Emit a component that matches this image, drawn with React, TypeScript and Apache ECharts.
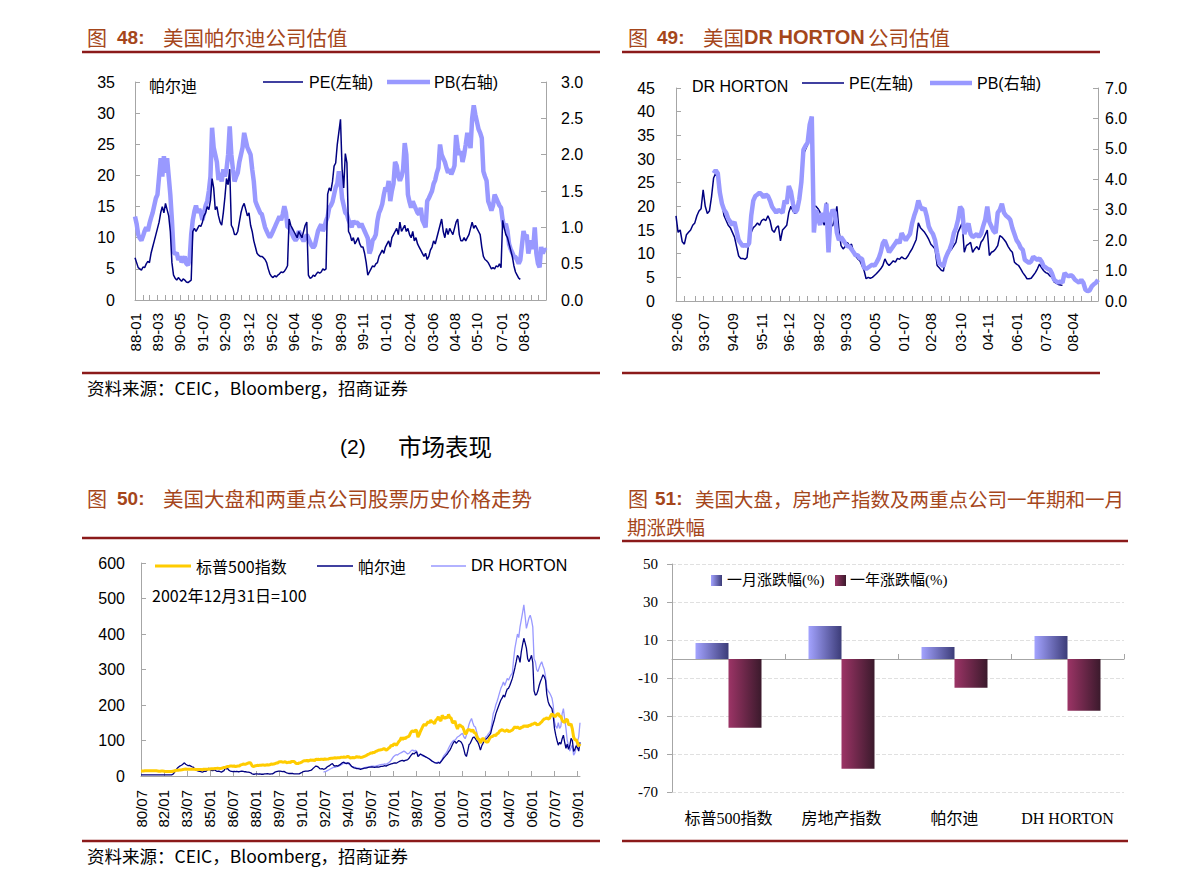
import React, { useEffect, useRef } from "react";
import * as echarts from "echarts";

// ---------- helpers for category names ----------
function months(y0: number, m0: number, n: number, sep: string): string[] {
  const out: string[] = [];
  for (let i = 0; i < n; i++) {
    const t = m0 - 1 + i;
    const y = (y0 + Math.floor(t / 12)) % 100;
    const m = (t % 12) + 1;
    out.push(String(y).padStart(2, "0") + sep + String(m).padStart(2, "0"));
  }
  return out;
}

// ---------- chart 48 : Pulte valuation ----------
const cat48 = months(1988, 1, 257, "-");
const labels48 = ["88-01", "89-03", "90-05", "91-07", "92-09", "93-12", "95-02", "96-04", "97-06", "98-09", "99-11", "01-01", "02-04", "03-06", "04-08", "05-10", "07-01", "08-03"];
const pultePE: (number | null)[] = [
  6.8, 6.0, 5.2, 5.0, 4.8, 5.3, 5.2, 5.8, 6.2, 6.0,
  7.5, 8.5, 9.5, 10.5, 11.5, 12.5, 14.0, 15.0, 14.0, 15.5,
  14.5, 13.5, 11.0, 6.0, 4.0, 3.5, 3.2, 3.6, 3.3, 3.0,
  3.4, 3.2, 2.9, 2.8, 3.0, 3.2, 11.0, 11.5, 11.0, 11.5,
  12.0, 11.8, 12.5, 13.5, 14.0, 15.0, 14.5, 16.0, 19.5, 18.0,
  14.5, 15.0, 13.5, 12.5, 12.0, 14.0, 16.5, 19.5, 18.5, 21.0,
  12.0, 11.5, 10.5, 10.5, 11.0, 12.5, 14.0, 15.0, 15.5, 14.5,
  13.5, 14.0, 12.0, 11.0, 9.5, 8.5, 7.5, 7.2, 7.0, 7.0,
  6.8, 6.5, 6.0, 5.0, 4.2, 3.8, 3.6, 3.9, 3.7, 4.0,
  4.2, 4.5, 4.4, 4.6, 5.0, 5.5, 13.0, 12.0, 11.5, 11.0,
  10.5, 10.0, 11.0, 10.5, 10.0, 11.0, 12.0, 12.5, 4.0, 3.5,
  3.6, 4.0, 3.8, 4.2, 4.5, 4.3, 4.5, 5.0, 4.8, 5.0,
  17.0, 18.0, 17.5, 19.0, 21.5, 22.0, 25.0, 27.0, 29.0, 21.0,
  18.0, 23.5, 22.0, 11.0, 10.5, 9.5, 10.0, 9.0, 9.5, 10.0,
  9.0, 8.5, 8.5, 7.5, 6.0, 4.0, 4.5, 5.0, 5.5, 5.3,
  5.8, 6.0, 7.0, 7.5, 8.0, 7.5, 8.5, 9.0, 9.5, 8.5,
  10.0, 10.5, 11.0, 11.5, 10.5, 12.5, 11.0, 11.5, 12.0, 11.0,
  11.5, 10.5, 10.0, 11.0, 9.5, 10.0, 9.0, 8.5, 8.0, 7.5,
  7.0, 7.5, 6.5, 7.0, 8.0, 8.5, 9.5, 9.0, 10.0, 11.0,
  12.0, 13.0, 11.0, 10.0, 11.5, 10.5, 11.5, 11.0, 10.5, 11.5,
  12.5, 13.0, 10.5, 9.5, 9.5, 10.0, 9.5, 10.0, 10.5, 11.5,
  12.5, 11.5, 12.0, 11.5, 11.0, 10.5, 8.5, 7.0, 6.5, 6.3,
  6.0, 5.5, 5.0, 5.2, 5.0, 5.5, 5.3, 5.8, 5.2, 12.8,
  11.5, 10.5, 10.0, 9.0, 8.0, 7.0, 5.5, 4.5, 4.0, 3.5,
  3.3, null, null, null, null, null, null, null, null, null,
  null, null, null, null, null, null, null,
];
const pultePB: number[] = [
  1.15, 1.05, 0.9, 0.85, 0.82, 0.88, 0.95, 1.0, 0.95, 1.05,
  1.13, 1.2, 1.3, 1.4, 1.45, 1.7, 1.95, 1.7, 1.98, 1.75,
  1.95, 1.7, 1.45, 1.1, 0.67, 0.63, 0.65, 0.55, 0.6, 0.52,
  0.55, 0.6, 0.5, 0.48, 0.55, 0.9, 1.1, 1.22, 1.3, 1.2,
  1.25, 1.2, 1.1, 1.2, 1.3, 1.36, 1.5, 1.7, 2.37, 2.1,
  2.0, 1.9, 1.65, 1.75, 1.63, 1.8, 1.7, 1.8, 2.0, 2.39,
  2.0, 1.8, 1.63, 1.7, 1.75, 1.9, 2.0, 2.1, 2.3, 2.2,
  2.1, 2.05, 2.0, 1.8, 1.63, 1.36, 1.3, 1.25, 1.2, 1.18,
  1.09, 1.0, 0.95, 0.9, 0.86, 0.9, 0.95, 1.0, 1.05, 1.1,
  1.15, 1.1, 1.18, 1.29, 1.2, 1.0, 1.0, 0.95, 0.9, 0.85,
  0.82, 0.85, 0.95, 0.9, 0.85, 0.81, 0.85, 0.9, 0.85, 0.8,
  0.75, 0.72, 0.75, 0.85, 0.95, 1.0, 1.04, 0.95, 1.0, 1.09,
  1.15, 1.27, 1.3, 1.35, 1.45, 1.55, 1.6, 1.77, 1.65, 1.4,
  1.3, 1.2, 1.18, 1.1, 1.05, 1.0, 1.09, 1.05, 1.07, 1.05,
  1.0, 1.05, 1.0, 0.95, 0.9, 0.85, 0.64, 0.7, 0.82, 0.85,
  0.9, 1.09, 1.2, 1.25, 1.32, 1.45, 1.55, 1.5, 1.64, 1.36,
  1.5, 1.6, 1.9, 1.85, 1.7, 1.64, 1.7, 1.8, 2.16, 2.0,
  1.45, 1.35, 1.27, 1.36, 1.3, 1.25, 1.2, 1.18, 1.27, 1.1,
  1.05, 1.0, 1.36, 1.4, 1.45, 1.5, 1.6, 1.65, 1.75, 1.82,
  2.14, 2.0, 1.95, 1.9, 1.82, 1.75, 1.8, 1.73, 1.78, 1.85,
  2.27, 2.1, 2.0, 2.05, 1.9, 2.0, 2.14, 2.3, 2.2, 2.09,
  2.5, 2.68, 2.55, 2.45, 2.35, 2.3, 2.23, 1.77, 1.7, 1.64,
  1.36, 1.3, 1.23, 1.3, 1.45, 1.4, 1.35, 1.3, 1.27, 1.1,
  1.0, 1.05, 0.95, 0.77, 0.7, 0.65, 0.6, 0.59, 0.55, 0.5,
  0.55, 0.75, 0.95, 0.86, 0.9, 0.64, 0.75, 0.82, 0.7, 1.0,
  0.64, 0.5, 0.45, 0.73, 0.64, 0.7, 0.68,
];

// ---------- chart 49 : DR Horton valuation ----------
const cat49 = months(1992, 6, 203, "-");
const labels49 = ["92-06", "93-07", "94-09", "95-11", "96-12", "98-02", "99-03", "00-05", "01-07", "02-08", "03-10", "04-11", "06-01", "07-03", "08-04"];
const hortonPE: (number | null)[] = [
  18.0, 14.5, 15.0, 12.5, 12.0, 14.0, 14.5, 15.0, 16.0, 16.5,
  18.0, 19.0, 19.5, 23.5, 20.0, 18.5, 19.0, 22.0, 26.0, 27.0,
  26.0, 22.5, 20.5, 18.0, 17.0, 16.0, 15.5, 14.5, 13.5, 11.5,
  9.5, 9.0, 9.0, 8.8, 9.2, 13.0, 14.5, 15.5, 15.9, 16.5,
  16.0, 17.0, 17.3, 17.0, 18.0, 17.0, 15.0, 14.5, 15.5, 15.9,
  12.7, 15.0, 15.5, 16.0, 18.7, 20.0, 19.0, 18.5, 19.0, 21.0,
  24.0, 31.0, 32.0, 33.0, 36.0, 38.0, 20.0, 20.0, 19.5, 18.7,
  17.0, 16.0, 20.8, 16.5, 16.0, 15.9, 17.5, 20.0, 15.0, 11.7,
  11.0, 11.5, 12.4, 11.7, 12.0, 10.3, 9.5, 8.9, 8.5, 7.5,
  6.5, 4.7, 5.0, 4.8, 5.0, 5.4, 5.8, 6.3, 6.8, 7.5,
  8.9, 8.0, 7.5, 8.0, 8.5, 8.2, 9.0, 8.8, 9.3, 9.0,
  8.9, 9.5, 10.3, 11.0, 12.0, 13.0, 16.5, 15.5, 15.0, 14.5,
  13.8, 13.0, 12.0, 11.5, 11.0, 7.5, 7.0, 6.5, 6.3, 9.0,
  9.6, 10.5, 11.0, 11.7, 12.4, 14.5, 15.5, 16.5, 10.3, 11.7,
  12.0, 12.4, 10.3, 11.0, 11.5, 10.8, 12.4, 13.0, 14.0, 15.0,
  9.6, 10.3, 10.5, 11.0, 11.7, 13.8, 13.5, 13.0, 12.4, 11.5,
  10.8, 10.3, 8.2, 7.8, 7.5, 6.8, 6.0, 5.4, 4.7, 4.7,
  4.8, 5.4, 6.0, 6.8, 7.8, 7.0, 6.4, 6.0, 5.8, 5.3,
  5.0, 4.0, 3.8, 3.5, 3.4, 3.3, null, null, null, null,
  null, null, null, null, null, null, null, null, null, null,
  null, null, null,
];
const hortonPB: (number | null)[] = [
  null, null, null, null, null, null, null, null, null, null,
  null, null, null, null, null, null, null, null, 4.2, 4.3,
  4.2, 3.56, 3.2, 3.0, 2.9, 2.7, 2.6, 2.5, 2.6, 2.3,
  2.0, 1.9, 1.8, 1.85, 1.8, 1.9, 2.8, 3.3, 3.45, 3.5,
  3.56, 3.5, 3.4, 3.5, 3.45, 3.3, 3.1, 3.0, 2.9, 3.0,
  2.95, 2.9, 3.3, 3.2, 3.78, 3.6, 3.2, 2.9, 3.0, 3.34,
  3.9, 4.97, 5.1, 5.2, 5.8, 6.06, 2.25, 3.0, 2.7, 2.5,
  2.9, 2.6, 3.2, 1.6, 2.8, 3.0, 2.9, 2.25, 2.0, 2.1,
  2.0, 1.9, 1.8, 1.8, 1.7, 1.6, 1.5, 1.5, 1.4, 1.4,
  1.1, 1.05, 1.1, 1.15, 1.2, 1.15, 1.27, 1.4, 1.6, 1.9,
  2.0, 1.8, 1.6, 1.7, 1.8, 1.9, 2.0, 1.9, 2.23, 2.1,
  2.0, 2.1, 2.2, 2.55, 2.8, 3.0, 3.3, 3.1, 3.0, 3.05,
  2.8, 2.45, 2.3, 2.2, 2.0, 1.6, 1.25, 1.2, 1.14, 1.4,
  1.57, 1.7, 1.9, 2.23, 2.4, 2.67, 3.1, 3.0, 2.2, 2.4,
  2.55, 2.2, 2.1, 2.15, 2.2, 2.1, 2.2, 2.45, 2.67, 3.1,
  2.6, 2.45, 2.3, 2.23, 2.9, 3.0, 3.2, 2.9, 2.8, 2.75,
  2.67, 2.4, 2.2, 2.0, 1.9, 1.75, 1.68, 1.35, 1.3, 1.25,
  1.3, 1.46, 1.4, 1.35, 1.4, 1.3, 1.14, 1.1, 1.05, 1.03,
  0.9, 0.7, 0.65, 0.6, 0.65, 0.6, 0.92, 0.85, 0.81, 0.85,
  0.8, 0.7, 0.65, 0.6, 0.7, 0.6, 0.37, 0.32, 0.35, 0.48,
  0.55, 0.6, 0.7,
];

// ---------- chart 50 : price history, 2002-12-31 = 100 ----------
const cat50 = months(1980, 7, 345, "/");
const labels50 = ["80/07", "82/01", "83/07", "85/01", "86/07", "88/01", "89/07", "91/01", "92/07", "94/01", "95/07", "97/01", "98/07", "00/01", "01/07", "03/01", "04/07", "06/01", "07/07", "09/01"];
const sp500: number[] = [
  14, 14, 14, 14.5, 15, 15,
  15, 15, 15, 15, 15, 15, 14.5, 14, 13.5, 13.5, 14, 14,
  13.5, 13, 13, 13, 13, 12.5, 12.5, 13.5, 14, 15.5, 16, 16,
  17, 17, 17.5, 18.5, 19, 19.5, 19, 19, 19, 19, 19, 19,
  19, 18, 18.5, 18.5, 18, 18, 17.5, 19, 19, 19, 19, 19,
  20, 20.5, 20.5, 20.5, 21, 21.5, 22, 21.5, 21, 21.5, 23, 24,
  24, 25.5, 27, 27, 28, 28, 27, 28.5, 26.5, 27.5, 28, 28,
  31, 32, 33.5, 33, 33, 35, 36.5, 37.5, 36.5, 29, 26.5, 28,
  29, 30, 29.5, 30, 30, 31, 31, 30, 31, 31.5, 31, 31.5,
  34, 33, 33.5, 35, 36.5, 36.5, 39.5, 40, 40, 39, 39.5, 40.5,
  37.5, 38, 39, 38, 41, 41, 41, 37, 35, 35, 37, 37.5,
  39, 42, 43, 43, 44, 42, 44, 45, 44, 45, 43, 47.5,
  46.5, 47, 46, 47, 47, 46.5, 48, 47, 47.5, 48, 49.5, 50,
  50, 50.5, 51.5, 50.5, 51.5, 51.5, 51.5, 53, 52.5, 53.5, 53, 53.5,
  55, 53.5, 51, 51.5, 52, 51, 52.5, 54.5, 53, 54, 52, 52.5,
  54, 55.5, 57, 58.5, 61, 62.5, 64.5, 64.5, 66.5, 66.5, 69.5, 70.5,
  72.5, 73, 74, 74.5, 76.5, 76.5, 73, 74.5, 78.5, 80.5, 86.5, 84.5,
  89.5, 90.5, 86.5, 91.5, 97, 101, 108.5, 102.5, 108, 104.5, 109, 110.5,
  111.5, 119.5, 125.5, 127, 124.5, 129.5, 128, 109.5, 116.5, 126, 133.5, 141,
  146.5, 142, 147.5, 153, 149.5, 157.5, 152.5, 151.5, 147.5, 157, 160, 167,
  158.5, 155.5, 170.5, 165.5, 162, 166, 163.5, 173.5, 164.5, 163.5, 150.5, 150.5,
  155.5, 141.5, 132.5, 142.5, 143.5, 140, 138.5, 130, 118.5, 120.5, 130, 130.5,
  129, 126, 130.5, 122.5, 121.5, 113, 104, 104.5, 93, 101.5, 107, 100,
  97.5, 95.5, 96.5, 104.5, 110, 111, 113, 115.5, 113.5, 119.5, 120.5, 126.5,
  128.5, 130.5, 128, 126, 127.5, 130, 125.5, 126, 127.5, 129.5, 134.5, 138.5,
  135.5, 138, 135.5, 133, 137, 137, 141.5, 140, 141.5, 138.5, 143.5, 142,
  145.5, 146, 148, 149.5, 144.5, 145, 145.5, 149.5, 152.5, 157.5, 160.5, 161.5,
  164, 160.5, 162, 169.5, 175, 172, 167, 168.5, 174.5, 176, 168.5, 167.5,
  157.5, 152.5, 151.5, 158.5, 159.5, 145.5, 143.5, 146.5, 132.5, 110, 101.5, 102.5,
  94, 84, 91,
];
const pultePrice: number[] = [
  3, 3, 3, 3, 3, 3,
  3, 3, 3, 3, 3, 3, 3, 3, 3, 3, 3, 3,
  3, 3, 3, 3, 3, 3, 3, 5, 9, 15, 20, 24,
  27, 29, 31, 34, 37, 33, 31, 29, 30, 28, 26, 25,
  20, 17, 15, 14, 13, 12, 11, 12, 14, 13, 17, 22,
  18, 16, 15, 16, 17, 14, 13, 14, 12, 11, 13, 15,
  22, 20, 21, 16, 14, 13, 12, 13, 12, 13, 12, 12,
  13, 14, 13, 12, 12, 11, 11, 10, 9, 6, 5, 5,
  6, 6, 5, 6, 5, 5, 5, 6, 6, 7, 6, 5,
  6, 6, 8, 11, 12, 13, 14, 14, 13, 12, 13, 11,
  9, 8, 7, 7, 7, 7, 6, 6, 6, 6, 6, 8,
  10, 12, 13, 14, 14, 14, 15, 16, 18, 22, 25, 28,
  27, 25, 21, 20, 21, 19, 20, 22, 26, 28, 30, 33,
  35, 30, 28, 29, 28, 30, 32, 35, 38, 39, 36, 35,
  37, 36, 32, 27, 25, 23, 22, 21, 21, 20, 19, 20,
  21, 22, 22, 23, 24, 25, 25, 26, 25, 24, 25, 26,
  25, 26, 27, 27, 28, 29, 28, 30, 31, 33, 34, 35,
  36, 37, 36, 38, 40, 42, 43, 44, 42, 44, 45, 46,
  50, 55, 60, 64, 62, 66, 68, 55, 58, 62, 60, 58,
  56, 54, 52, 50, 48, 45, 42, 40, 38, 37, 36, 38,
  36, 40, 45, 50, 54, 58, 62, 68, 73, 80, 88, 95,
  98, 92, 96, 100, 98, 95, 88, 75, 60, 55, 70, 88,
  92, 100, 108, 110, 105, 100, 95, 85, 73, 85, 92, 100,
  103, 106, 110, 115, 120, 135, 148, 160, 175, 185, 195, 205,
  214, 220, 228, 222, 235, 245, 247, 255, 265, 275, 290, 305,
  322, 340, 335, 320, 350, 370, 388, 375, 360, 330, 322, 330,
  340, 320, 240, 228, 230, 240, 255, 266, 275, 285, 280, 270,
  230, 210, 200, 195, 190, 170, 134, 115, 100, 87, 95, 90,
  105, 115, 95, 78, 90, 75, 85, 106, 100, 69, 75, 85,
  80, 70, 95,
];
const hortonPrice: (number | null)[] = [
  ...new Array(143).fill(null),
  11, 12, 13, 15, 17, 19, 21,
  23, 25, 24, 26, 27, 28, 30, 32, 34, 36, 35, 37,
  35, 33, 30, 27, 26, 25, 24, 23, 22, 22, 21, 21,
  22, 23, 24, 25, 25, 26, 27, 28, 28, 27, 28, 29,
  30, 31, 32, 33, 33, 34, 33, 35, 37, 40, 45, 50,
  55, 58, 60, 59, 62, 64, 66, 68, 70, 68, 65, 62,
  64, 68, 72, 73, 70, 72, 70, 59, 60, 62, 58, 56,
  55, 54, 52, 50, 48, 45, 42, 40, 38, 37, 36, 40,
  36, 42, 48, 55, 60, 64, 70, 78, 85, 92, 97, 100,
  101, 105, 110, 112, 115, 118, 120, 110, 105, 115, 130, 145,
  155, 162, 150, 140, 138, 125, 110, 95, 92, 98, 105, 100,
  110, 112, 118, 122, 129, 150, 176, 185, 200, 210, 222, 235,
  247, 255, 265, 255, 265, 275, 270, 278, 285, 290, 330, 360,
  380, 400, 390, 420, 440, 460, 482, 450, 416, 430, 445, 453,
  440, 420, 330, 322, 300, 294, 305, 315, 322, 310, 300, 280,
  247, 240, 235, 228, 220, 200, 153, 140, 134, 150, 134, 140,
  175, 190, 160, 134, 100, 87, 70, 80, 87, 59, 65, 80,
  97, 110, 150,
];

// ---------- chart 51 : one-month / one-year change ----------
const cat51 = ["标普500指数", "房地产指数", "帕尔迪", "DH HORTON"];
const monthChange = [8.4, 17.4, 6.3, 12.1];
const yearChange = [-36.2, -57.7, -15.1, -27.2];

// ---------- styles ----------
const SANS = '"Liberation Sans", "Noto Sans CJK SC", sans-serif';
const SERIF = '"Liberation Serif", "Noto Sans CJK SC", serif';
const CJK = '"Noto Sans CJK SC", "Liberation Sans", sans-serif';
const TITLE = "#a5461b";
const RULE = "#8b1a1a";
const AXIS = "#a6a6a6";
const NAVY = "#000080";
const LIGHT = "#9999ff";
const GOLD = "#ffcc00";

function tickSet(cats: string[], labels: string[], thirds: boolean): Set<number> {
  const idx = labels.map((l) => cats.indexOf(l));
  const s = new Set<number>();
  for (let j = 0; j < idx.length; j++) {
    const a = idx[j];
    s.add(a);
    if (!thirds) continue;
    const d = j < idx.length - 1 ? idx[j + 1] - a : idx[j] - idx[j - 1];
    for (let k = 1; k < 3; k++) {
      const p = a + Math.round((d * k) / 3);
      if (p < cats.length) s.add(p);
    }
  }
  if (thirds) s.add(cats.length - 1);
  return s;
}

function catAxis(grid: number, cats: string[], labels: string[], thirds: boolean, margin: number) {
  const lab = new Set(labels);
  const ticks = tickSet(cats, labels, thirds);
  return {
    type: "category",
    gridIndex: grid,
    data: cats,
    boundaryGap: false,
    axisLine: { show: true, onZero: false, lineStyle: { color: AXIS, width: 1 } },
    axisTick: {
      show: true,
      inside: true,
      length: 5,
      interval: (i: number) => ticks.has(i),
      lineStyle: { color: AXIS },
    },
    axisLabel: {
      interval: (_i: number, v: string) => lab.has(v),
      rotate: 90,
      margin,
      fontSize: 15,
      fontFamily: SANS,
      color: "#000",
    },
    splitLine: { show: false },
  };
}

function valAxis(grid: number, pos: string, min: number, max: number, interval: number, margin: number, dec: number) {
  return {
    type: "value",
    gridIndex: grid,
    position: pos,
    min,
    max,
    interval,
    axisLine: { show: true, lineStyle: { color: AXIS, width: 1 } },
    axisTick: { show: true, inside: true, length: 5, lineStyle: { color: AXIS } },
    axisLabel: {
      margin,
      fontSize: 16,
      fontFamily: SANS,
      color: "#000",
      formatter: (v: number) => (dec > 0 ? v.toFixed(dec) : String(v)),
    },
    splitLine: { show: false },
  };
}

function txt(text: string, x: number, y: number, size: number, o: any = {}) {
  return {
    type: "text",
    x,
    y,
    silent: true,
    style: {
      text,
      fontSize: size,
      fontFamily: o.family || CJK,
      fontWeight: o.weight || "normal",
      fill: o.color || "#000",
      align: o.align || "left",
      verticalAlign: "middle",
    },
  };
}
function hline(x1: number, x2: number, y: number, color: string, w: number) {
  return { type: "line", silent: true, shape: { x1, y1: y, x2, y2: y }, style: { stroke: color, lineWidth: w } };
}

function lineSeries(name: string, xi: number, yi: number, data: any[], color: string, width: number) {
  return {
    type: "line",
    name,
    xAxisIndex: xi,
    yAxisIndex: yi,
    data,
    symbol: "none",
    showSymbol: false,
    connectNulls: false,
    lineStyle: { color, width },
    itemStyle: { color },
    emphasis: { disabled: true },
  };
}

function grad(a: string, b: string) {
  return new echarts.graphic.LinearGradient(0, 0, 1, 0, [
    { offset: 0, color: a },
    { offset: 1, color: b },
  ]);
}

function buildOption() {
  const elements: any[] = [
    // chart 48 header
    txt("图", 87, 37, 20, { color: TITLE }),
    txt("48:", 117, 37, 19, { color: TITLE, family: SANS, weight: "bold" }),
    txt("美国帕尔迪公司估值", 163, 37, 20.5, { color: TITLE }),
    hline(82, 600, 52, RULE, 2.5),
    hline(82, 600, 373, RULE, 2.5),
    txt("资料来源：CEIC，Bloomberg，招商证券", 87, 387, 17.5),
    txt("帕尔迪", 149, 85, 16),
    hline(263, 303, 82, NAVY, 1.5),
    txt("PE(左轴)", 309, 82, 16, { family: SANS }),
    hline(387, 430, 82, LIGHT, 4.5),
    txt("PB(右轴)", 434, 82, 16, { family: SANS }),

    // chart 49 header
    txt("图", 628, 37, 20, { color: TITLE }),
    txt("49:", 657, 37, 19, { color: TITLE, family: SANS, weight: "bold" }),
    txt("美国", 703, 37, 20.5, { color: TITLE }),
    txt("DR HORTON", 744, 37, 20, { color: TITLE, family: SANS, weight: "bold" }),
    txt("公司估值", 868, 37, 20.5, { color: TITLE }),
    hline(622, 1100, 52, RULE, 2.5),
    hline(622, 1100, 373, RULE, 2.5),
    txt("DR HORTON", 692, 86, 16, { family: SANS }),
    hline(802, 844, 83, NAVY, 1.5),
    txt("PE(左轴)", 849, 83, 16, { family: SANS }),
    hline(930, 972, 83, LIGHT, 4.5),
    txt("PB(右轴)", 977, 83, 16, { family: SANS }),

    // section header
    txt("(2)", 340, 446, 21, { family: SANS }),
    txt("市场表现", 398, 446, 23.5),

    // chart 50 header
    txt("图", 87, 498, 20, { color: TITLE }),
    txt("50:", 117, 498, 19, { color: TITLE, family: SANS, weight: "bold" }),
    txt("美国大盘和两重点公司股票历史价格走势", 163, 498, 20.5, { color: TITLE }),
    hline(82, 600, 538, RULE, 2.5),
    hline(82, 600, 841, RULE, 2.5),
    txt("资料来源：CEIC，Bloomberg，招商证券", 87, 855, 17.5),
    hline(155, 191, 566, GOLD, 3),
    txt("标普500指数", 196, 566, 16),
    hline(317, 353, 566, NAVY, 1.5),
    txt("帕尔迪", 358, 566, 16),
    hline(431, 466, 566, LIGHT, 1.5),
    txt("DR HORTON", 471, 565, 16, { family: SANS }),
    txt("2002年12月31日=100", 152, 595, 16),

    // chart 51 header
    txt("图", 628, 498, 20, { color: TITLE }),
    txt("51:", 655, 498, 19, { color: TITLE, family: SANS, weight: "bold" }),
    txt("美国大盘，房地产指数及两重点公司一年期和一月", 695, 498, 19.5, { color: TITLE }),
    txt("期涨跌幅", 627, 526, 19.5, { color: TITLE }),
    hline(622, 1128, 541, RULE, 2.5),
    hline(622, 1128, 841, RULE, 2.5),
    { type: "rect", silent: true, shape: { x: 711, y: 575, width: 11, height: 11 }, style: { fill: grad("#a3a3ff", "#3c3c78") } },
    txt("一月涨跌幅(%)", 727, 580, 15, { family: SERIF }),
    { type: "rect", silent: true, shape: { x: 835, y: 575, width: 11, height: 11 }, style: { fill: grad("#9c3466", "#3b1a2c") } },
    txt("一年涨跌幅(%)", 850, 580, 15, { family: SERIF }),
  ];

  return {
    animation: false,
    backgroundColor: "#ffffff",
    textStyle: { fontFamily: SANS },
    grid: [
      { left: 135, top: 82, width: 411, height: 218 },
      { left: 676, top: 88, width: 422, height: 213 },
      { left: 141, top: 563, width: 439, height: 213 },
      { left: 672, top: 564, width: 452, height: 228 },
    ],
    xAxis: [
      catAxis(0, cat48, labels48, true, 13),
      catAxis(1, cat49, labels49, true, 12),
      catAxis(2, cat50, labels50, false, 14),
      {
        type: "category",
        gridIndex: 3,
        data: cat51,
        position: "bottom",
        axisLine: { show: false, onZero: false },
        axisTick: { show: false },
        axisLabel: { interval: 0, margin: 18, fontSize: 16, fontFamily: SERIF, color: "#000" },
        splitLine: { show: false },
      },
      {
        type: "category",
        gridIndex: 3,
        data: cat51,
        position: "bottom",
        axisLine: { show: true, onZero: true, lineStyle: { color: AXIS, width: 1 } },
        axisTick: { show: true, inside: true, length: 5, lineStyle: { color: AXIS } },
        axisLabel: { show: false },
        splitLine: { show: false },
      },
    ],
    yAxis: [
      valAxis(0, "left", 0, 35, 5, 20, 0),
      valAxis(0, "right", 0, 3, 0.5, 15, 1),
      valAxis(1, "left", 0, 45, 5, 21, 0),
      valAxis(1, "right", 0, 7, 1, 7, 1),
      valAxis(2, "left", 0, 600, 100, 16, 0),
      {
        type: "value",
        gridIndex: 3,
        min: -70,
        max: 50,
        interval: 20,
        axisLine: { show: true, lineStyle: { color: AXIS, width: 1 } },
        axisTick: { show: true, inside: false, length: 5, lineStyle: { color: AXIS } },
        axisLabel: { margin: 14, fontSize: 15, fontFamily: SERIF, color: "#000" },
        splitLine: { show: true, lineStyle: { color: "#e0e0e0", type: "dashed" } },
      },
    ],
    series: [
      lineSeries("PB(右轴)", 0, 1, pultePB, LIGHT, 4.5),
      lineSeries("PE(左轴)", 0, 0, pultePE, NAVY, 1.5),
      lineSeries("PE(左轴)", 1, 2, hortonPE, NAVY, 1.5),
      lineSeries("PB(右轴)", 1, 3, hortonPB, LIGHT, 4.5),
      lineSeries("DR HORTON", 2, 4, hortonPrice, LIGHT, 1.3),
      lineSeries("帕尔迪", 2, 4, pultePrice, NAVY, 1.3),
      lineSeries("标普500指数", 2, 4, sp500, GOLD, 3),
      {
        type: "bar",
        name: "一月涨跌幅(%)",
        xAxisIndex: 3,
        yAxisIndex: 5,
        data: monthChange,
        barWidth: 33,
        barGap: "0%",
        itemStyle: { color: grad("#a3a3ff", "#3c3c78") },
        emphasis: { disabled: true },
      },
      {
        type: "bar",
        name: "一年涨跌幅(%)",
        xAxisIndex: 3,
        yAxisIndex: 5,
        data: yearChange,
        barWidth: 33,
        barGap: "0%",
        itemStyle: { color: grad("#9c3466", "#3b1a2c") },
        emphasis: { disabled: true },
      },
    ],
    graphic: { elements },
  };
}

export default function App() {
  const ref = useRef<HTMLDivElement>(null);
  useEffect(() => {
    if (!ref.current) return;
    const chart = echarts.init(ref.current, null, { renderer: "svg" });
    chart.setOption(buildOption() as any);
    return () => chart.dispose();
  }, []);
  return (
    <div
      ref={ref}
      style={{ position: "absolute", left: 0, top: 0, width: 1190, height: 885, background: "#fff" }}
    />
  );
}
